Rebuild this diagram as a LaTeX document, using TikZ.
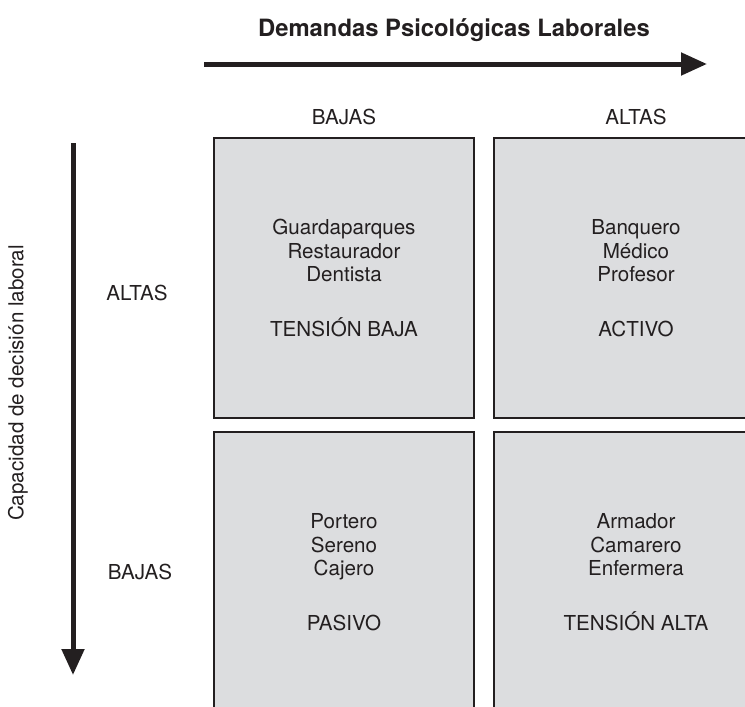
\documentclass[tikz,border=0pt]{standalone}
\usepackage{fontspec}
\setmainfont{TeX Gyre Heros}
\usepackage{tikz}
\usetikzlibrary{arrows.meta}

\definecolor{tinta}{HTML}{231F20}
\definecolor{gris}{HTML}{DCDDDF}

\tikzset{
	caja/.style={draw=tinta, line width=1.25pt, fill=gris, text=tinta, align=center,
		inner sep=0pt, font=\fontsize{10.3}{11.75}\selectfont},
	rotulo/.style={text=tinta, font=\fontsize{10.3}{12}\selectfont},
	eje/.style={draw=tinta, line width=2.5pt, -{Triangle[length=13pt,width=11pt]}}
}

\begin{document}
\begin{tikzpicture}[x=0.5pt, y=-0.5pt]

			\useasboundingbox (0, 0) rectangle (745, 707);

			\node[rotulo, font=\fontsize{11.9}{14}\selectfont\bfseries] (titulo) at (454, 30) {Demandas Psicológicas Laborales};
			\node[rotulo, rotate=90] (capacidad) at (18, 383) {Capacidad de decisión laboral};

			\node[rotulo] (demBajas) at (344, 117) {BAJAS};
			\node[rotulo] (demAltas) at (636, 117) {ALTAS};
			\node[rotulo] (capAltas) at (137, 293) {ALTAS};
			\node[rotulo] (capBajas) at (140, 572) {BAJAS};

			\node[caja, minimum width=130pt, minimum height=140pt] (tensionBaja) at (344, 278)
				{Guardaparques\\Restaurador\\Dentista\\[15.5pt]TENSIÓN BAJA};
			\node[caja, minimum width=142pt, minimum height=140pt] (activo) at (636, 278)
				{Banquero\\Médico\\Profesor\\[15.5pt]ACTIVO};
			\node[caja, minimum width=130pt, minimum height=140pt] (pasivo) at (344, 572)
				{Portero\\Sereno\\Cajero\\[15.5pt]PASIVO};
			\node[caja, minimum width=142pt, minimum height=140pt] (tensionAlta) at (636, 572)
				{Armador\\Camarero\\Enfermera\\[15.5pt]TENSIÓN ALTA};

			\coordinate (demIni) at (204, 64);
			\coordinate (demFin) at (707, 64);
			\coordinate (capIni) at (73, 143);
			\coordinate (capFin) at (73, 675);

			\draw[eje] (demIni) -- (demFin);
			\draw[eje] (capIni) -- (capFin);

		\end{tikzpicture}
\end{document}
